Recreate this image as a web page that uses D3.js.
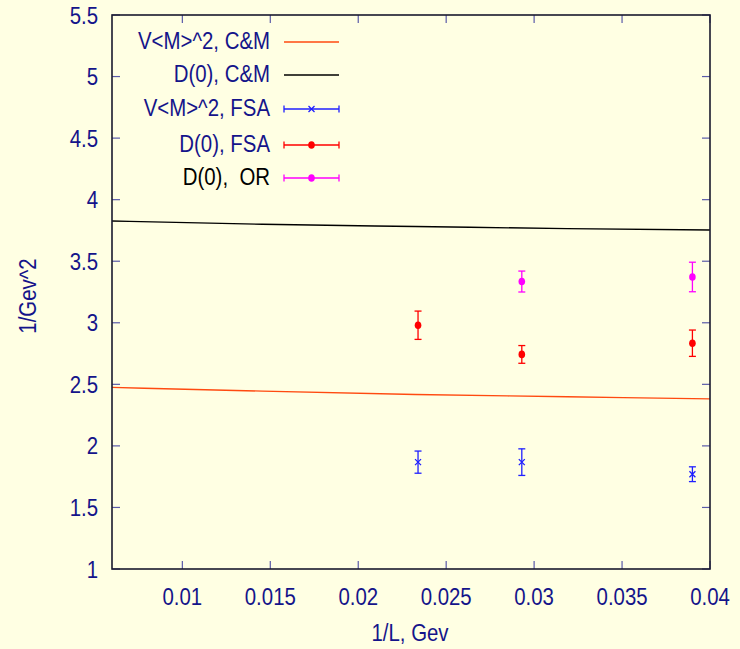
<!DOCTYPE html>
<html><head><meta charset="utf-8">
<script src="https://cdn.jsdelivr.net/npm/d3@7"></script>
<style>
html,body{margin:0;padding:0;background:#ffffe3;}
svg{display:block;font-family:"Liberation Sans",Arial,sans-serif;}
</style></head>
<body><svg id="c" width="740" height="649"></svg>
<script>
// ---- data ----
const xTicks = [0.01, 0.015, 0.02, 0.025, 0.03, 0.035, 0.04];
const yTicks = [1, 1.5, 2, 2.5, 3, 3.5, 4, 4.5, 5, 5.5];
const cmX = [0.006, 0.01455, 0.02324, 0.03188, 0.04];
const cmVM2 = [2.475, 2.445, 2.418, 2.399, 2.382];
const cmD0 = [3.827, 3.800, 3.782, 3.765, 3.754];
const fsaX = [0.0234, 0.0293, 0.0390];
const fsaVM2 = [1.868, 1.868, 1.770];
const fsaVM2Err = [0.09, 0.108, 0.06];
const fsaD0 = [2.98, 2.743, 2.834];
const fsaD0Err = [0.115, 0.072, 0.107];
const orX = [0.0293, 0.0390];
const orD0 = [3.335, 3.372];
const orD0Err = [0.085, 0.12];
const legendLabels = ["V<M>^2, C&M", "D(0), C&M", "V<M>^2, FSA", "D(0), FSA", "D(0),  OR"];

// ---- layout ----
const L = 112, R = 710, T = 15, B = 569;
const navy = "#14148a", tickCol = "#5a5aa8";
const svg = d3.select("#c");
const x = d3.scaleLinear().domain([0.006, 0.04]).range([L, R]);
const y = d3.scaleLinear().domain([1, 5.5]).range([B, T]);
const font = "24px", sx = 0.85;

function txt(px, py, str, anchor, col, rot) {
  return svg.append("text")
    .attr("transform", `translate(${px},${py})` + (rot ? ` rotate(${rot})` : "") + ` scale(${sx},1)`)
    .attr("text-anchor", anchor).attr("fill", col).style("font-size", font)
    .style("white-space", "pre").attr("xml:space", "preserve").text(str);
}

// ticks (mirrored, inward)
const tl = 8;
const g = svg.append("g");
xTicks.forEach(v => {
  g.append("line").attr("x1", x(v)).attr("x2", x(v)).attr("y1", B).attr("y2", B - tl).attr("stroke", tickCol).attr("stroke-width", 1.2);
  g.append("line").attr("x1", x(v)).attr("x2", x(v)).attr("y1", T).attr("y2", T + tl).attr("stroke", tickCol).attr("stroke-width", 1.2);
  txt(x(v), 605, String(v), "middle", navy);
});
yTicks.forEach(v => {
  g.append("line").attr("y1", y(v)).attr("y2", y(v)).attr("x1", L).attr("x2", L + tl).attr("stroke", tickCol).attr("stroke-width", 1.2);
  g.append("line").attr("y1", y(v)).attr("y2", y(v)).attr("x1", R).attr("x2", R - tl).attr("stroke", tickCol).attr("stroke-width", 1.2);
  txt(98, y(v) + 8.5, String(v), "end", navy);
});

// axis titles
txt(410, 641, "1/L, Gev", "middle", navy);
txt(36, 296, "1/Gev^2", "middle", navy, -90);

// curves
const line = d3.line().x(d => x(d[0])).y(d => y(d[1])).curve(d3.curveMonotoneX);
svg.append("path").attr("d", line(cmX.map((v, i) => [v, cmVM2[i]]))).attr("fill", "none").attr("stroke", "#ff4a10").attr("stroke-width", 1.4);
svg.append("path").attr("d", line(cmX.map((v, i) => [v, cmD0[i]]))).attr("fill", "none").attr("stroke", "#000").attr("stroke-width", 1.4);

// error bars
function errbars(xs, ys, es, col, marker) {
  xs.forEach((xv, i) => {
    const cx = x(xv), y0 = y(ys[i] - es[i]), y1 = y(ys[i] + es[i]);
    svg.append("line").attr("x1", cx).attr("x2", cx).attr("y1", y0).attr("y2", y1).attr("stroke", col).attr("stroke-width", 1.3);
    [y0, y1].forEach(yy => svg.append("line").attr("x1", cx - 3.5).attr("x2", cx + 3.5).attr("y1", yy).attr("y2", yy).attr("stroke", col).attr("stroke-width", 1.3));
    drawMarker(cx, y(ys[i]), col, marker);
  });
}
function drawMarker(cx, cy, col, marker) {
  if (marker === "x") {
    const s = 3;
    svg.append("path").attr("d", `M${cx - s},${cy - s}L${cx + s},${cy + s}M${cx - s},${cy + s}L${cx + s},${cy - s}`).attr("stroke", col).attr("stroke-width", 1.3);
  } else {
    svg.append("ellipse").attr("cx", cx).attr("cy", cy).attr("rx", 3.3).attr("ry", 3.8).attr("fill", col);
  }
}
errbars(fsaX, fsaVM2, fsaVM2Err, "#2020ff", "x");
errbars(fsaX, fsaD0, fsaD0Err, "#ff0000", "o");
errbars(orX, orD0, orD0Err, "#ff00ff", "o");

// legend
const legendY = [42, 75, 109, 145, 178];
const legendStyle = [
  {col: "#ff4a10", type: "line", text: navy},
  {col: "#000", type: "line", text: navy},
  {col: "#2020ff", type: "err", m: "x", text: navy},
  {col: "#ff0000", type: "err", m: "o", text: navy},
  {col: "#ff00ff", type: "err", m: "o", text: "#000"}
];
legendLabels.forEach((lab, i) => {
  const ly = legendY[i], st = legendStyle[i];
  txt(270, ly + 6.5, lab, "end", st.text);
  svg.append("line").attr("x1", 284).attr("x2", 339).attr("y1", ly).attr("y2", ly).attr("stroke", st.col).attr("stroke-width", 1.3);
  if (st.type === "err") {
    [284, 339].forEach(xx => svg.append("line").attr("x1", xx).attr("x2", xx).attr("y1", ly - 3.5).attr("y2", ly + 3.5).attr("stroke", st.col).attr("stroke-width", 1.3));
    drawMarker(311.5, ly, st.col, st.m);
  }
});

// frame
svg.append("rect").attr("x", L).attr("y", T).attr("width", R - L).attr("height", B - T).attr("fill", "none").attr("stroke", "#1a1a2e").attr("stroke-width", 1.6);
</script></body></html>
